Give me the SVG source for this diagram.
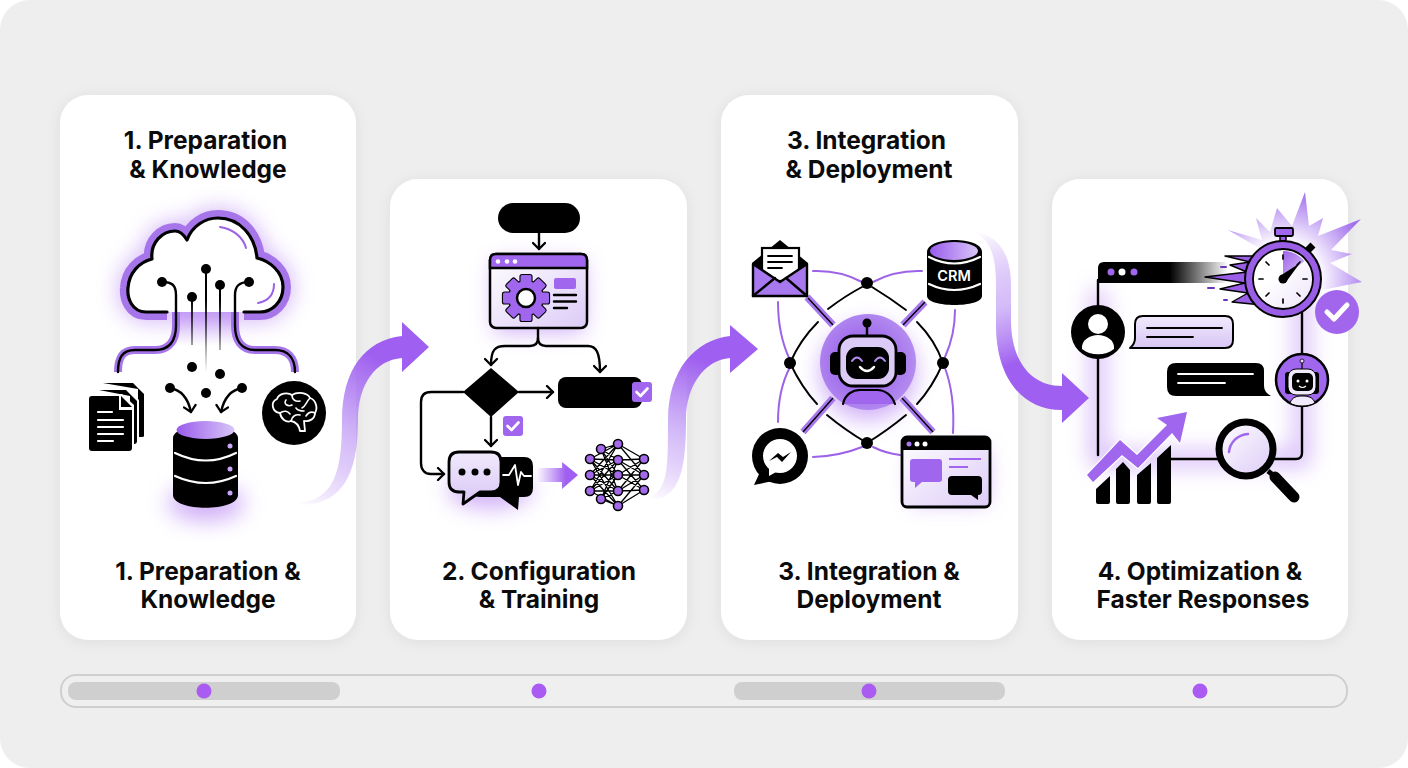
<svg xmlns="http://www.w3.org/2000/svg" xmlns:xlink="http://www.w3.org/1999/xlink" width="1408" height="768" viewBox="0 0 1408 768">
<style>
text{font-family:Inter,"Liberation Sans",sans-serif;font-weight:700;font-size:24.5px;fill:#0b0b0b;text-anchor:middle}
.card{fill:#fff;filter:url(#shadow)}
.k{fill:none;stroke:#000;stroke-width:2.4;stroke-linecap:round;stroke-linejoin:round}
.w{fill:none;stroke:#fff;stroke-width:2.2;stroke-linecap:round;stroke-linejoin:round}
.p{fill:none;stroke:#9c62e8;stroke-width:2;stroke-linecap:round}
.b{fill:#000}
.pf{fill:#a066ee}
.glow{fill:#a261f0;opacity:.5;filter:url(#blur)}
.arr{marker-end:url(#chev)}
.n{fill:#a468ea;stroke:#000;stroke-width:1.6}
</style>
<defs>
<filter id="shadow" x="-15%" y="-15%" width="130%" height="130%"><feDropShadow dx="0" dy="2" stdDeviation="7" flood-color="#000" flood-opacity=".07"/></filter>
<filter id="blur" x="-60%" y="-60%" width="220%" height="220%"><feGaussianBlur stdDeviation="11"/></filter>
<marker id="chev" viewBox="0 0 14 14" refX="11" refY="7" markerWidth="14" markerHeight="14" markerUnits="userSpaceOnUse" orient="auto"><path d="M5 1L11 7L5 13" fill="none" stroke="#000" stroke-width="2.3" stroke-linecap="round" stroke-linejoin="round"/></marker>
<linearGradient id="a1" gradientUnits="userSpaceOnUse" x1="298" y1="505" x2="380" y2="360"><stop offset="0" stop-color="#a05ff0" stop-opacity="0"/><stop offset=".45" stop-color="#b68cf3" stop-opacity=".55"/><stop offset="1" stop-color="#9f5ff0"/></linearGradient>
<linearGradient id="a2" gradientUnits="userSpaceOnUse" x1="648" y1="500" x2="700" y2="360"><stop offset="0" stop-color="#a05ff0" stop-opacity="0"/><stop offset=".45" stop-color="#b68cf3" stop-opacity=".55"/><stop offset="1" stop-color="#9f5ff0"/></linearGradient>
<linearGradient id="a3" gradientUnits="userSpaceOnUse" x1="975" y1="232" x2="1030" y2="395"><stop offset="0" stop-color="#a05ff0" stop-opacity="0"/><stop offset=".45" stop-color="#c3a2f5" stop-opacity=".7"/><stop offset=".8" stop-color="#9f5ff0"/></linearGradient>
<linearGradient id="a4" gradientUnits="userSpaceOnUse" x1="538" y1="0" x2="578" y2="0"><stop offset="0" stop-color="#a05ff0" stop-opacity=".05"/><stop offset=".7" stop-color="#a05ff0"/></linearGradient>
<linearGradient id="fade" gradientUnits="userSpaceOnUse" x1="0" y1="300" x2="0" y2="372"><stop offset="0" stop-color="#000"/><stop offset="1" stop-color="#000" stop-opacity="0"/></linearGradient>
<linearGradient id="fadep" x1="0" y1="0" x2="0" y2="1"><stop offset="0" stop-color="#a05ff0" stop-opacity=".45"/><stop offset="1" stop-color="#a05ff0" stop-opacity="0"/></linearGradient>
<linearGradient id="lil" x1="0" y1="0" x2="1" y2="1"><stop offset="0" stop-color="#fff"/><stop offset="1" stop-color="#dccbf7"/></linearGradient>
<linearGradient id="lil3" x1="0" y1="0" x2="1" y2="1"><stop offset=".4" stop-color="#fff"/><stop offset="1" stop-color="#ece2fb"/></linearGradient>
<linearGradient id="lil2" x1="0" y1="0" x2="0" y2="1"><stop offset="0" stop-color="#f1eafc"/><stop offset="1" stop-color="#d8c6f5"/></linearGradient>
<linearGradient id="pur" x1="0" y1="0" x2="1" y2="0"><stop offset="0" stop-color="#9a5cec"/><stop offset="1" stop-color="#d8c5f7"/></linearGradient>
<linearGradient id="bar" gradientUnits="userSpaceOnUse" x1="1170" y1="0" x2="1228" y2="0"><stop offset="0" stop-color="#000"/><stop offset="1" stop-color="#000" stop-opacity="0"/></linearGradient>
<linearGradient id="wedge" x1="0" y1="0" x2="1" y2="1"><stop offset="0" stop-color="#9f62ec"/><stop offset="1" stop-color="#d8c5f7"/></linearGradient>
<radialGradient id="burst" gradientUnits="userSpaceOnUse" cx="1283" cy="279" r="90"><stop offset=".45" stop-color="#f8f3fe"/><stop offset="1" stop-color="#9f6ded"/></radialGradient>
<radialGradient id="orb" cx=".45" cy=".5" r=".55"><stop offset="0" stop-color="#8f50e6"/><stop offset="1" stop-color="#b48cf0"/></radialGradient>
<g id="chk"><rect x="-10" y="-10" width="20" height="20" rx="3" fill="#a066ee"/><path d="M-5.5 0L-1.5 4L5.5 -3.5" fill="none" stroke="#fff" stroke-width="2.6" stroke-linecap="round" stroke-linejoin="round"/></g>
<rect id="tooth" x="-5.5" y="-23" width="11" height="10" rx="1.5"/>
</defs>

<rect width="1408" height="768" fill="#fff"/>
<rect width="1408" height="768" rx="30" fill="#eeeeee"/>

<g id="timeline">
<rect x="61" y="675" width="1286" height="32" rx="15" fill="#efefef" stroke="#cfcfcf" stroke-width="2"/>
<rect x="68" y="682" width="272" height="18" rx="8" fill="#cfcfcf"/>
<rect x="734" y="682" width="271" height="18" rx="8" fill="#cfcfcf"/>
<g fill="#a95bf2"><circle cx="204" cy="691" r="7.5"/><circle cx="539" cy="691" r="7.5"/><circle cx="869" cy="691" r="7.5"/><circle cx="1200" cy="691" r="7.5"/></g>
</g>

<g id="step1">
<rect class="card" x="60" y="95" width="296" height="545" rx="28"/>
<text x="205.500" y="149">1. Preparation</text>
<text x="208" y="177.500">&amp; Knowledge</text>
<text x="208" y="579.500">1. Preparation &amp;</text>
<text x="208" y="608">Knowledge</text>
<path class="glow" style="fill:none;stroke:#a261f0;stroke-width:18" d="M146 312C132 312 127 298 128 288C129 272 140 262 152 259C150 242 163 231 175 231C180 231 184 235 187 240C192 226 205 218 218 218C240 218 255 236 257 258C270 261 283 272 283 287C283 302 272 312 260 312Z"/>
<ellipse class="glow" cx="206" cy="503" rx="38" ry="18"/>
<path d="M167 312H146C132 312 127 298 128 288C129 272 140 262 152 259C150 242 163 231 175 231C180 231 184 235 187 240C192 226 205 218 218 218C240 218 255 236 257 258C270 261 283 272 283 287C283 302 272 312 260 312H244" fill="none" stroke="#a675ea" stroke-width="16" stroke-linejoin="round"/>
<path d="M167 312H146C132 312 127 298 128 288C129 272 140 262 152 259C150 242 163 231 175 231C180 231 184 235 187 240C192 226 205 218 218 218C240 218 255 236 257 258C270 261 283 272 283 287C283 302 272 312 260 312H244" fill="#fff" stroke="#000" stroke-width="3.2" stroke-linejoin="round" stroke-linecap="round"/>
<rect x="176" y="312" width="59" height="34" fill="url(#fadep)"/>
<path d="M220 227C233 229 243 237 246 248" class="p"/><path d="M274 284C274 295 268 301 258 303" class="p"/>
<path d="M176 312V325C176 340 170 350 155 350H135C122 350 118 358 118 372" fill="none" stroke="#a675ea" stroke-width="8"/>
<path d="M235 312V325C235 340 241 350 255 350H275C288 350 295 358 295 372" fill="none" stroke="#a675ea" stroke-width="8"/>
<path d="M162 282C172 282 176 285 176 295V325C176 340 170 350 155 350H135C122 350 118 358 118 372" class="k"/>
<path d="M249 282C240 282 235 285 235 295V325C235 340 241 350 255 350H275C288 350 295 358 295 372" class="k"/>
<path d="M206 269V372M192 297V345M220 285V350" fill="none" stroke="url(#fade)" stroke-width="2"/>
<g class="b"><circle cx="162" cy="282" r="5"/><circle cx="249" cy="282" r="5"/><circle cx="206" cy="269" r="5"/><circle cx="192" cy="297" r="5"/><circle cx="220" cy="285" r="5"/><circle cx="192" cy="367" r="5"/><circle cx="220" cy="374" r="5"/><circle cx="206" cy="393" r="5"/><circle cx="170" cy="388" r="5"/><circle cx="242" cy="388" r="5"/></g>
<path class="k arr" d="M170 388C182 390 188 398 191 412"/>
<path class="k arr" d="M242 388C230 390 224 398 221 412"/>
<g id="docs">
<path class="b" d="M103 383H133L144 394V436Q144 437 142 437H138V389Z"/>
<path d="M97 390H129L139 400V444H97Z" fill="#fff"/>
<path class="b" d="M99 390H126L137 401V441Q137 444 134 444H130V396Z"/>
<path d="M92 394H122L134 405V452H92Z" fill="#fff"/>
<path class="b" d="M92 396H119V410H132V448Q132 451 129 451H92Q89 451 89 448V399Q89 396 92 396Z"/>
<path class="b" d="M121 396L132 407H121Z"/>
<path class="w" d="M98 412H112M98 420H123M98 427H123M98 434H123M98 441H113" stroke-linecap="butt"/>
</g>
<g id="db">
<path class="b" d="M173 438C173 422 238 422 238 438V495C238 512 173 512 173 495Z"/>
<ellipse cx="205.500" cy="430" rx="29" ry="9" fill="url(#pur)"/>
<path class="w" d="M175 453Q206 468 236 453M175 476Q206 490 236 476"/>
<g fill="#c6a6f5"><circle cx="230" cy="446" r="2.500"/><circle cx="230" cy="469" r="2.500"/><circle cx="230" cy="493" r="2.500"/></g>
</g>
<g id="brain">
<circle class="b" cx="294" cy="413" r="32"/>
<path class="w" style="stroke-width:1.800" d="M280 413C272 412 270 402 277 399C279 393 288 392 292 395C298 391 308 393 310 398C316 400 318 408 315 413C315 419 309 422 304 421L305 431L300 431C299 425 296 422 291 421C286 423 281 419 280 413Z"/>
<path class="w" style="stroke-width:1.600" d="M286 400C283 404 288 407 292 405M292 395C292 400 296 402 300 401M310 398C306 402 306 406 302 408M280 413C284 410 288 411 290 414M291 421C292 416 296 414 300 415M315 413C311 411 308 413 306 416M296 408C298 411 302 411 304 411"/>
</g>
</g>

<g id="step2">
<rect class="card" x="390" y="179" width="297" height="461" rx="28"/>
<text x="539" y="579.500">2. Configuration</text>
<text x="539" y="608">&amp; Training</text>
<rect x="494" y="262" width="90" height="70" class="glow"/>
<ellipse cx="490" cy="490" rx="42" ry="18" class="glow"/>
<rect x="498" y="203" width="82" height="30" rx="15" class="b"/>
<path class="k arr" d="M539 233V249"/>
<rect x="490" y="254" width="97" height="74" rx="6" fill="url(#lil)" stroke="#000" stroke-width="2.500"/>
<path d="M490 268V260Q490 254 496 254H581Q587 254 587 260V268Z" fill="#a066ee" stroke="#000" stroke-width="2.500"/>
<g fill="#fff"><circle cx="498" cy="261.500" r="2.300"/><circle cx="507" cy="261.500" r="2.300"/><circle cx="515" cy="261.500" r="2.300"/></g>
<g transform="translate(526 298)">
<g fill="#000" stroke="#000" stroke-width="2.200"><use xlink:href="#tooth"/><use xlink:href="#tooth" transform="rotate(45)"/><use xlink:href="#tooth" transform="rotate(90)"/><use xlink:href="#tooth" transform="rotate(135)"/><use xlink:href="#tooth" transform="rotate(180)"/><use xlink:href="#tooth" transform="rotate(225)"/><use xlink:href="#tooth" transform="rotate(270)"/><use xlink:href="#tooth" transform="rotate(315)"/><circle r="17"/></g>
<g fill="#a066ee"><use xlink:href="#tooth"/><use xlink:href="#tooth" transform="rotate(45)"/><use xlink:href="#tooth" transform="rotate(90)"/><use xlink:href="#tooth" transform="rotate(135)"/><use xlink:href="#tooth" transform="rotate(180)"/><use xlink:href="#tooth" transform="rotate(225)"/><use xlink:href="#tooth" transform="rotate(270)"/><use xlink:href="#tooth" transform="rotate(315)"/><circle r="17"/></g>
<circle r="9" fill="#fff" stroke="#000" stroke-width="2.500"/>
</g>
<rect x="554" y="278" width="22" height="11" rx="2" fill="#a066ee"/>
<path class="k" d="M554 295H576M554 301.500H576M554 308H567"/>
<path class="k arr" d="M538 328V338C538 344 534 346 530 346H505C495 346 491 350 491 365"/>
<path class="k arr" d="M538 338C538 344 542 346 546 346H588C596 346 600 352 600 372"/>
<path class="b" d="M463 392L491 368L519 392L491 417Z"/>
<path class="k arr" d="M519 392H553"/>
<rect x="558" y="377" width="84" height="31" rx="8" class="b"/>
<use xlink:href="#chk" x="642" y="392"/>
<path class="k arr" d="M491 417V446"/>
<use xlink:href="#chk" x="513" y="426"/>
<path class="k arr" d="M463 392H431C424 392 421 396 421 402V463C421 470 425 474 431 474H444"/>
<path class="b" d="M499 457H524Q533 457 533 466V488Q533 497 524 497H519L518 510L500 497H480Q470 497 470 488Z"/>
<path class="w" style="stroke-width:1.800" d="M502 475H509L512 470L515 465L518 485L521 472L524 476H531"/>
<path d="M459 452H491Q501 452 501 462V482Q501 492 491 492H480L463 504L464 492H459Q449 492 449 482V462Q449 452 459 452Z" fill="url(#lil2)" stroke="#000" stroke-width="2.800" stroke-linejoin="round"/>
<g class="b"><circle cx="462" cy="472" r="3.500"/><circle cx="475" cy="472" r="3.500"/><circle cx="487" cy="472" r="3.500"/></g>
<path d="M538 468H562V462L578 475L562 489V482H538Z" fill="url(#a4)"/>
<g id="net">
<path fill="none" stroke="#000" stroke-width="1.300" d="M590 459L618 444M590 459L618 460M590 459L618 475M590 459L618 491M590 459L618 506M590 475L618 444M590 475L618 460M590 475L618 475M590 475L618 491M590 475L618 506M590 491L618 444M590 491L618 460M590 491L618 475M590 491L618 491M590 491L618 506M601 449L618 444M601 449L618 460M601 449L618 475M601 449L618 491M601 499L618 460M601 499L618 475M601 499L618 491M601 499L618 506M618 444L644 459M618 444L644 475M618 460L644 459M618 460L644 475M618 460L644 490M618 475L644 459M618 475L644 475M618 475L644 490M618 491L644 459M618 491L644 475M618 491L644 490M618 506L644 475M618 506L644 490"/>
<g class="n"><circle cx="601" cy="449" r="4.500"/><circle cx="590" cy="459" r="4.500"/><circle cx="618" cy="444" r="4.500"/><circle cx="618" cy="460" r="4.500"/><circle cx="644" cy="459" r="4.500"/><circle cx="590" cy="475" r="4.500"/><circle cx="618" cy="475" r="4.500"/><circle cx="644" cy="475" r="4.500"/><circle cx="590" cy="491" r="4.500"/><circle cx="601" cy="499" r="4.500"/><circle cx="618" cy="491" r="4.500"/><circle cx="644" cy="490" r="4.500"/><circle cx="618" cy="506" r="4.500"/></g>
</g>
</g>

<g id="step3">
<rect class="card" x="721" y="95" width="297" height="545" rx="28"/>
<text x="866.500" y="149">3. Integration</text>
<text x="869" y="177.500">&amp; Deployment</text>
<text x="869" y="579.500">3. Integration &amp;</text>
<text x="869" y="608">Deployment</text>
<circle cx="868" cy="372" r="48" class="glow"/>
<rect x="912" y="450" width="74" height="52" class="glow"/>
<path fill="none" stroke="#a878ee" stroke-width="7" d="M807 297L833 325M803 432L833 398M903 325L925 302M902 398L933 432"/>
<path fill="none" stroke="#000" stroke-width="1.400" d="M808 298L833 325M803 432L833 398M903 325L925 302M902 398L933 432"/>
<g class="p"><path d="M813 271Q840 270 862 282M873 282Q895 270 922 271M778 302Q778 335 790 360M955 310Q955 335 945 357M790 367Q778 390 778 422M945 368Q955 395 953 433M813 457Q840 456 862 447M873 447Q885 453 900 455"/></g>
<path class="k" style="stroke-width:1.900" d="M862 287Q845 296 828 309M818 322Q800 340 790 363M872 287Q890 298 906 310M917 322Q935 340 943 363M790 363Q802 388 817 404M827 415Q845 430 867 443M943 363Q932 388 917 404M906 415Q888 430 867 443"/>
<g class="b"><circle cx="867" cy="283" r="6"/><circle cx="790" cy="363" r="6"/><circle cx="943" cy="363" r="6"/><circle cx="867" cy="443" r="6"/></g>
<circle cx="868" cy="362" r="48" fill="url(#orb)"/>
<g id="bot">
<path class="k" d="M867 327V337"/><circle cx="867" cy="323" r="4.500" class="b"/>
<rect x="830" y="352" width="12" height="23" rx="5" class="b"/><rect x="894" y="352" width="12" height="23" rx="5" class="b"/>
<rect x="839" y="336" width="57" height="50" rx="14" fill="#dccbf7" stroke="#000" stroke-width="2.800"/>
<rect x="846" y="347" width="43" height="32" rx="11" class="b"/>
<path d="M852 361Q857 354 862 361M875 361Q880 354 885 361" fill="none" stroke="#b48ef2" stroke-width="2" stroke-linecap="round"/>
<path d="M860 367Q867 375 874 367" fill="none" stroke="#fff" stroke-width="2.500" stroke-linecap="round"/>
<path d="M843 404C845 394 853 390 860 390H877C885 390 892 395 895 404" fill="#a066ee" stroke="#000" stroke-width="2.200" stroke-linecap="round"/>
</g>
<g id="mail">
<path d="M752 263L780 240L808 263V295Q808 297 806 297H754Q752 297 752 295Z" fill="#000"/>
<rect x="762" y="248" width="37" height="33" fill="#fff" stroke="#000" stroke-width="2.200"/>
<path d="M768 256H792M768 262H792M768 268H782" class="k" style="stroke-width:1.800"/>
<path d="M753 264L780 282L807 264V296H753Z" fill="#a878ee" stroke="#000" stroke-width="2.400" stroke-linejoin="round"/>
<path d="M753 296L775 278M807 296L786 278" class="k"/>
</g>
<g id="crm">
<path class="b" d="M927 252C927 236 982 236 982 252V296C982 308 927 308 927 296Z"/>
<ellipse cx="954" cy="251" rx="24" ry="9" fill="url(#pur)"/>
<path class="w" d="M929 257Q954 270 980 257M929 284Q954 296 980 284"/>
<text x="954" y="281" style="font-size:14.500px;fill:#fff;font-weight:600">CRM</text>
</g>
<g id="msg">
<circle cx="780" cy="456" r="28" class="b"/><path class="b" d="M760 472L754 485L773 481Z"/>
<circle cx="780" cy="456" r="17" fill="#fff"/><path d="M769 468L769 476L778 471Z" fill="#fff"/>
<path class="b" d="M769 461L778 453L783 457L791 452L782 462L777 457Z"/>
</g>
<g id="win">
<rect x="902" y="437" width="88" height="70" rx="5" fill="url(#lil)" stroke="#000" stroke-width="2.800"/>
<path class="b" d="M902 450V442Q902 437 907 437H985Q990 437 990 442V450Z"/>
<circle cx="909" cy="444" r="2.500" fill="#a878ee"/><circle cx="917" cy="444" r="2.500" fill="#fff"/><circle cx="925" cy="444" r="2.500" fill="#fff"/>
<path class="pf" d="M913 459H939Q942 459 942 462V479Q942 482 939 482H922L915 488L915 482H913Q910 482 910 479V462Q910 459 913 459Z"/>
<path d="M949 459H981M949 467H968" fill="none" stroke="#a066ee" stroke-width="2"/>
<path class="b" d="M952 476H978Q982 476 982 480V491Q982 495 978 495V500L971 495H952Q948 495 948 491V480Q948 476 952 476Z"/>
</g>
</g>

<g id="step4">
<rect class="card" x="1052" y="179" width="296" height="461" rx="28"/>
<text x="1200" y="579.500">4. Optimization &amp;</text>
<text x="1203" y="608">Faster Responses</text>
<path class="glow" style="fill:none;stroke:#a261f0;stroke-width:14" d="M1098 290V459H1302V290"/>
<path d="M1228 230L1262 240L1256 218L1270 232L1277 208L1292 226L1305 192L1309 226L1323 218L1318 236L1361 219L1331 250L1352 254L1330 263L1362 282L1322 290L1320 300L1280 260Z" fill="url(#burst)"/>
<path class="k" d="M1302 310V453Q1302 459 1296 459H1170M1098 455V280"/>
<path d="M1098 283V268Q1098 262 1104 262H1228V283Z" fill="url(#bar)"/>
<circle cx="1111" cy="272" r="3.500" fill="#a066ee"/><circle cx="1122" cy="272" r="3.500" fill="#fff"/><circle cx="1134" cy="272" r="3.500" fill="#a066ee"/>
<g id="watch">
<path d="M1257 256L1225 256L1250 262L1230 265L1247 272L1205 277L1245 283L1220 289L1248 293L1232 302L1262 305Z" fill="#9a5fe6" stroke="#000" stroke-width="1.400" stroke-linejoin="round"/>
<path d="M1221 267H1226M1208 288H1214M1224 300H1227" stroke="#6c34b8" stroke-width="2" stroke-linecap="round"/>
<rect x="1280" y="235" width="6" height="6" fill="#9a5fe6" stroke="#000" stroke-width="1.500"/>
<rect x="1275" y="228" width="18" height="8" rx="1.500" fill="#a066ee" stroke="#000" stroke-width="1.800"/>
<path d="M1307 251L1313 245" stroke="#000" stroke-width="7"/>
<circle cx="1283" cy="279" r="38" fill="#9a5fe6" stroke="#000" stroke-width="2"/>
<circle cx="1283" cy="279" r="30" fill="url(#lil3)" stroke="#000" stroke-width="1.800"/>
<path d="M1283 279V251A28 28 0 0 1 1304.400 261Z" fill="url(#wedge)"/>
<path class="k" style="stroke-width:1.700" d="M1283 255V259M1283 299V303M1259 279H1263M1303 279H1307M1266 262L1269 265M1300 262L1297 265M1266 296L1269 293M1300 296L1297 293"/>
<path d="M1280 276L1300 263L1286 282Z" class="b"/>
<circle cx="1283" cy="279" r="4.500" class="b"/>
</g>
<g id="okbadge">
<circle cx="1337" cy="312" r="22" fill="#a266ec"/>
<path d="M1327 312L1334 319L1347 305" fill="none" stroke="#fff" stroke-width="5" stroke-linecap="round" stroke-linejoin="round"/>
</g>
<g id="user">
<circle cx="1098" cy="332" r="27" class="b"/>
<circle cx="1098" cy="324" r="10" fill="#fff"/>
<path d="M1082 349C1081 340 1090 335 1098 335C1106 335 1115 340 1114 349C1106 356 1090 356 1082 349Z" fill="#fff"/>
</g>
<path d="M1143 316H1225Q1233 316 1233 324V340Q1233 348 1225 348H1130Q1135 344 1135 338V324Q1135 316 1143 316Z" fill="url(#lil2)" stroke="#000" stroke-width="2" stroke-linejoin="round"/>
<path class="k" style="stroke-width:1.800" d="M1147 328H1222M1147 337H1193"/>
<path class="b" d="M1176 363H1256Q1264 363 1264 371V386Q1264 392 1271 396H1176Q1167 396 1167 387V372Q1167 363 1176 363Z"/>
<path class="w" style="stroke-width:1.800" d="M1178 374H1253M1178 383H1225"/>
<g id="smallbot">
<circle cx="1302" cy="380" r="26" fill="#a066ee" stroke="#000" stroke-width="2.500"/>
<path d="M1290 403C1292 397 1297 396 1302 396C1308 396 1313 397 1315 403C1308 407 1296 407 1290 403Z" fill="#f1eafc" stroke="#000" stroke-width="1"/>
<path d="M1302 362V369" stroke="#000" stroke-width="1.200"/><circle cx="1302" cy="361" r="2" fill="#e8dcfb" stroke="#000" stroke-width=".8"/>
<rect x="1285" y="372" width="34" height="22" rx="3" fill="#000"/>
<rect x="1288" y="369" width="28" height="26" rx="8" fill="#f1eafc" stroke="#000" stroke-width="1"/>
<rect x="1292" y="373" width="21" height="18" rx="5" class="b"/>
<circle cx="1298" cy="381" r="1.500" fill="#fff"/><circle cx="1307" cy="381" r="1.500" fill="#fff"/>
<path d="M1299 386Q1302.500 389 1306 386" fill="none" stroke="#fff" stroke-width="1.200"/>
</g>
<g id="chart">
<path class="b" d="M1096 489L1110 476V502Q1110 504 1108 504H1098Q1096 504 1096 502ZM1116 469L1123 462L1130 470V502Q1130 504 1128 504H1118Q1116 504 1116 502ZM1137 475L1151 463V502Q1151 504 1149 504H1139Q1137 504 1137 502ZM1157 458L1171 445V502Q1171 504 1169 504H1159Q1157 504 1157 502Z"/>
<path d="M1087 475L1120 440L1137 455L1167 425L1157 418L1187 412L1180 443L1172 433L1138 468L1122 455L1093 482Z" class="pf" stroke="#fff" stroke-width="2.500" stroke-linejoin="round" paint-order="stroke"/>
</g>
<g id="lens">
<path d="M1268 471L1273 475" stroke="#000" stroke-width="5"/>
<path d="M1275 477L1294 497" stroke="#000" stroke-width="11" stroke-linecap="round"/>
<circle cx="1246" cy="449" r="27" fill="url(#lil)" stroke="#000" stroke-width="7"/>
<path d="M1229 452A20 20 0 0 1 1248 434" fill="none" stroke="#a066ee" stroke-width="2.500" stroke-linecap="round"/>
</g>
</g>

<g id="connectors">
<path d="M298 503C335 500 342 470 342 420C342 370 365 340 402 336V322L429 347L402 372V358C375 360 358 385 358 420C358 470 345 506 298 505Z" fill="url(#a1)"/>
<path d="M648 498C668 490 668 470 668 420C668 370 695 340 730 336V325L758 349L730 373V358C705 360 686 385 686 420C686 470 680 500 648 500Z" fill="url(#a2)"/>
<path d="M975 231C995 235 1011 250 1011 285V320C1011 360 1030 386 1062 386V373L1089 398L1062 423V410C1020 410 996 375 996 325V285C996 255 990 240 975 233Z" fill="url(#a3)"/>
</g>
</svg>
